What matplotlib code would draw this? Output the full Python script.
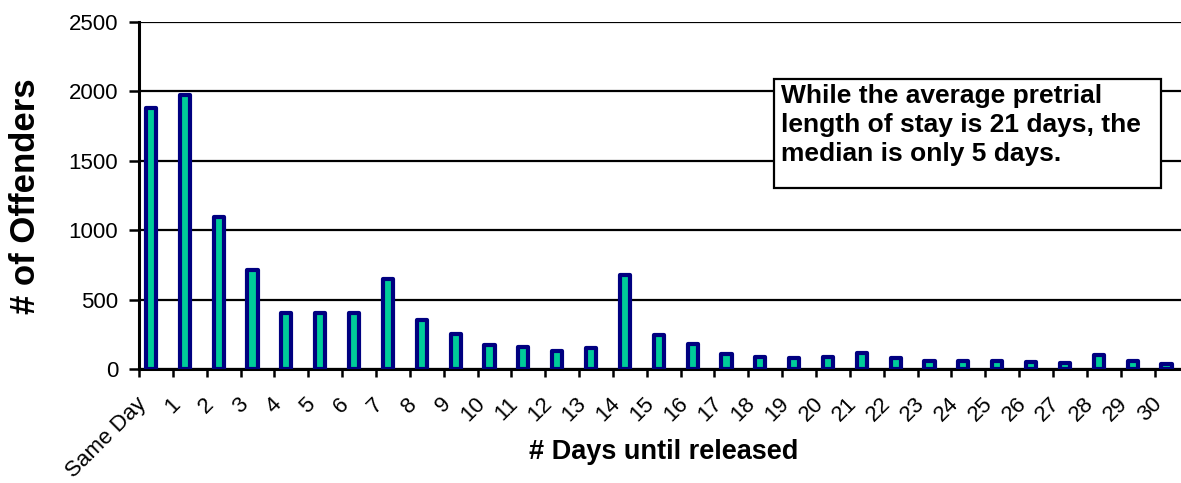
import matplotlib
matplotlib.use("Agg")
import matplotlib.pyplot as plt
from matplotlib.patches import Rectangle
from matplotlib.transforms import ScaledTranslation

# Pretrial release distribution
categories = ["Same Day"] + [str(d) for d in range(1, 31)]
offenders = [1880, 1975, 1095, 710, 405, 405, 400, 645, 350, 255,
             170, 155, 130, 150, 680, 245, 180, 110, 85, 78,
             85, 118, 77, 60, 58, 56, 49, 44, 100, 56, 36]
y_ticks = [0, 500, 1000, 1500, 2000, 2500]
note = ("While the average pretrial\n"
        "length of stay is 21 days, the\n"
        "median is only 5 days.")

plt.rcParams["font.family"] = ["Liberation Sans", "DejaVu Sans"]

W, H, DPI = 1181, 483, 100
fig = plt.figure(figsize=(W / DPI, H / DPI), dpi=DPI)
ax = fig.add_axes([139 / W, 1 - 369 / H, (W - 139) / W, (369 - 22) / H])

x = list(range(len(categories)))
ax.bar(x, offenders, width=0.3, color="#00CC99", edgecolor="#000080",
       linewidth=3.0, joinstyle="round", zorder=3)

# bars sit a little right of each category tick
shift = 0.355
slot = 33.85  # pixels per category
ax.set_xlim(-shift, -shift + (W - 139) / slot)
ax.set_ylim(0, 2500)
ax.set_yticks(y_ticks)
ax.set_yticklabels([str(v) for v in y_ticks], fontsize=16)
ax.yaxis.grid(True, color="black", linewidth=1.6, zorder=0)
ax.set_axisbelow(True)

ax.set_xticks([i - shift for i in x])
ax.set_xticklabels([""] * len(x))
ax.set_xticks(x, minor=True)
ax.set_xticklabels(categories, minor=True, rotation=45, ha="right",
                   va="center", rotation_mode="anchor", fontsize=16)
ax.tick_params(axis="x", which="minor", length=0, pad=23)
ax.tick_params(axis="x", which="major", length=6, width=1.8, direction="out")
ax.tick_params(axis="y", length=7, width=1.8, pad=8)
offset = ScaledTranslation(-8 / DPI, 0, fig.dpi_scale_trans)
for lab in ax.get_xticklabels(minor=True):
    lab.set_transform(lab.get_transform() + offset)

for side in ("top", "right"):
    ax.spines[side].set_visible(False)
for side in ("left", "bottom"):
    ax.spines[side].set_linewidth(2.2)

fig.text(26 / W, 1 - 196 / H, "# of Offenders", rotation=90, ha="center",
         va="center", fontsize=25, fontweight="bold")
fig.text(664 / W, 1 - 452 / H, "# Days until released", ha="center",
         va="center", fontsize=19.5, fontweight="bold")

# annotation box
box_l, box_t, box_r, box_b = 774, 79, 1161, 188
fig.patches.append(Rectangle((box_l / W, 1 - box_b / H), (box_r - box_l) / W,
                             (box_b - box_t) / H, transform=fig.transFigure,
                             facecolor="white", edgecolor="black",
                             linewidth=1.6, zorder=5))
fig.text(781 / W, 1 - 84 / H, note, ha="left", va="top", fontsize=19,
         fontweight="bold", linespacing=1.25, zorder=6)

fig.savefig("out.png", dpi=DPI)
